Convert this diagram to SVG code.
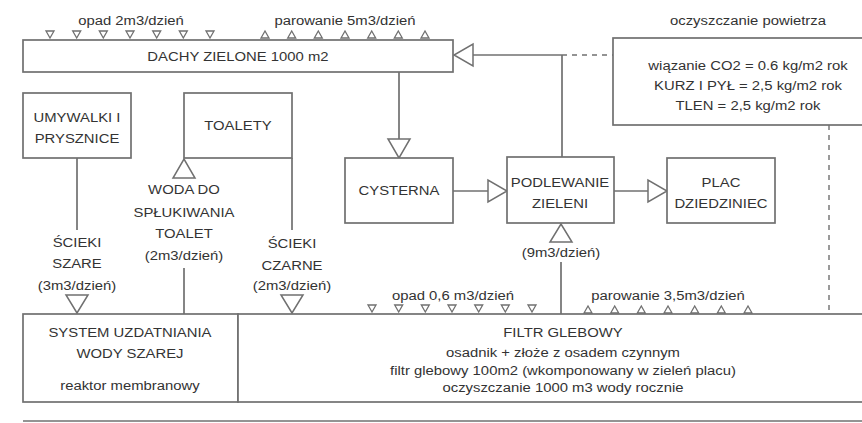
<svg xmlns="http://www.w3.org/2000/svg" width="862" height="423" viewBox="0 0 862 423">
<defs>
<style>
.b{fill:#fff;stroke:#707070;stroke-width:1.7}
.l{fill:none;stroke:#707070;stroke-width:1.7}
.d{fill:none;stroke:#707070;stroke-width:1.4;stroke-dasharray:5,5}
.a{fill:#fff;stroke:#707070;stroke-width:1.5;stroke-linejoin:miter}
.s{fill:#fff;stroke:#707070;stroke-width:1.3}
text{font-family:"Liberation Sans",Arial,sans-serif;font-size:13.5px;fill:#333;text-anchor:middle;transform-box:fill-box;transform-origin:center;transform:scaleX(1.1)}
</style>
<path id="sd" d="M-4,0 L4,0 L0,7 Z"/>
<path id="su" d="M-4,7 L4,7 L0,0 Z"/>
</defs>
<rect width="862" height="423" fill="#fff"/>

<g id="connectors">
<line class="l" x1="399" y1="72" x2="399" y2="139"/>
<path class="a" d="M388,139 L410,139 L399,158 Z"/>
<line class="l" x1="473" y1="55" x2="562" y2="55"/>
<path class="a" d="M473,44 L473,66 L454,55 Z"/>
<line class="l" x1="562" y1="55" x2="562" y2="157"/>
<line class="d" x1="562" y1="55" x2="613" y2="55"/>
<line class="d" x1="829" y1="125" x2="829" y2="314"/>
<line class="l" x1="453" y1="191" x2="488" y2="191"/>
<path class="a" d="M488,180 L488,202 L507,191 Z"/>
<line class="l" x1="614" y1="191" x2="648" y2="191"/>
<path class="a" d="M648,180 L648,202 L667,191 Z"/>
<path class="a" d="M550,242 L572,242 L561,224 Z"/>
<line class="l" x1="561" y1="262" x2="561" y2="314"/>
<line class="l" x1="77" y1="158" x2="77" y2="230"/>
<path class="a" d="M66,295 L88,295 L77,313 Z"/>
<path class="a" d="M173,178 L195,178 L184,159 Z"/>
<line class="l" x1="184" y1="268" x2="184" y2="314"/>
<line class="l" x1="292" y1="158" x2="292" y2="230"/>
<path class="a" d="M281,295 L303,295 L292,313 Z"/>
<line class="l" x1="23" y1="421" x2="862" y2="421"/>
</g>

<g id="roof-flows">
<use href="#sd" class="s" x="50" y="31"/><use href="#sd" class="s" x="76.7" y="31"/><use href="#sd" class="s" x="103.3" y="31"/><use href="#sd" class="s" x="130" y="31"/><use href="#sd" class="s" x="156.7" y="31"/><use href="#sd" class="s" x="183.3" y="31"/><use href="#sd" class="s" x="210" y="31"/>
<use href="#su" class="s" x="265" y="31"/><use href="#su" class="s" x="291.7" y="31"/><use href="#su" class="s" x="318.3" y="31"/><use href="#su" class="s" x="345" y="31"/><use href="#su" class="s" x="371.7" y="31"/><use href="#su" class="s" x="398.3" y="31"/><use href="#su" class="s" x="425" y="31"/>
<text x="131" y="25">opad 2m3/dzień</text>
<text x="345" y="25">parowanie 5m3/dzień</text>
</g>

<g id="filter-flows">
<use href="#sd" class="s" x="372" y="305"/><use href="#sd" class="s" x="398.7" y="305"/><use href="#sd" class="s" x="425.3" y="305"/><use href="#sd" class="s" x="452" y="305"/><use href="#sd" class="s" x="478.7" y="305"/><use href="#sd" class="s" x="505.3" y="305"/><use href="#sd" class="s" x="532" y="305"/>
<use href="#su" class="s" x="588" y="306"/><use href="#su" class="s" x="614.7" y="306"/><use href="#su" class="s" x="641.3" y="306"/><use href="#su" class="s" x="668" y="306"/><use href="#su" class="s" x="694.7" y="306"/><use href="#su" class="s" x="721.3" y="306"/><use href="#su" class="s" x="748" y="306"/>
<text x="453" y="300">opad 0,6 m3/dzień</text>
<text x="668" y="300">parowanie 3,5m3/dzień</text>
</g>

<g id="dachy">
<rect class="b" x="23" y="40" width="430" height="32"/>
<text x="238" y="61">DACHY ZIELONE 1000 m2</text>
</g>

<g id="oczyszczanie">
<text x="748" y="25">oczyszczanie powietrza</text>
<rect class="b" x="613" y="38" width="260" height="87"/>
<text x="748" y="70">wiązanie CO2 = 0.6 kg/m2 rok</text>
<text x="748" y="90">KURZ I PYŁ = 2,5 kg/m2 rok</text>
<text x="748" y="110">TLEN = 2,5 kg/m2 rok</text>
</g>

<g id="umywalki">
<rect class="b" x="23" y="93" width="108" height="65"/>
<text x="77" y="122">UMYWALKI I</text>
<text x="77" y="143">PRYSZNICE</text>
</g>

<g id="toalety">
<rect class="b" x="184" y="93" width="108" height="65"/>
<text x="238" y="130">TOALETY</text>
</g>

<g id="label-woda">
<text x="184" y="194">WODA DO</text>
<text x="184" y="217">SPŁUKIWANIA</text>
<text x="184" y="238">TOALET</text>
<text x="184" y="260">(2m3/dzień)</text>
</g>

<g id="label-szare">
<text x="77" y="247">ŚCIEKI</text>
<text x="77" y="268">SZARE</text>
<text x="77" y="290">(3m3/dzień)</text>
</g>

<g id="label-czarne">
<text x="292" y="248">ŚCIEKI</text>
<text x="292" y="270">CZARNE</text>
<text x="292" y="290">(2m3/dzień)</text>
</g>

<g id="cysterna">
<rect class="b" x="345" y="158" width="108" height="65"/>
<text x="399" y="195">CYSTERNA</text>
</g>

<g id="podlewanie">
<rect class="b" x="507" y="157" width="107" height="66"/>
<text x="560" y="187">PODLEWANIE</text>
<text x="560" y="208">ZIELENI</text>
<text x="561" y="257">(9m3/dzień)</text>
</g>

<g id="plac">
<rect class="b" x="667" y="158" width="108" height="65"/>
<text x="721" y="187">PLAC</text>
<text x="721" y="208">DZIEDZINIEC</text>
</g>

<g id="system">
<rect class="b" x="23" y="314" width="215" height="88"/>
<text x="130" y="337">SYSTEM UZDATNIANIA</text>
<text x="130" y="358">WODY SZAREJ</text>
<text x="130" y="390">reaktor membranowy</text>
</g>

<g id="filtr">
<rect class="b" x="238" y="314" width="640" height="88"/>
<text x="563" y="337">FILTR GLEBOWY</text>
<text x="563" y="357">osadnik + złoże z osadem czynnym</text>
<text x="563" y="375">filtr glebowy 100m2 (wkomponowany w zieleń placu)</text>
<text x="563" y="392">oczyszczanie 1000 m3 wody rocznie</text>
</g>
</svg>
